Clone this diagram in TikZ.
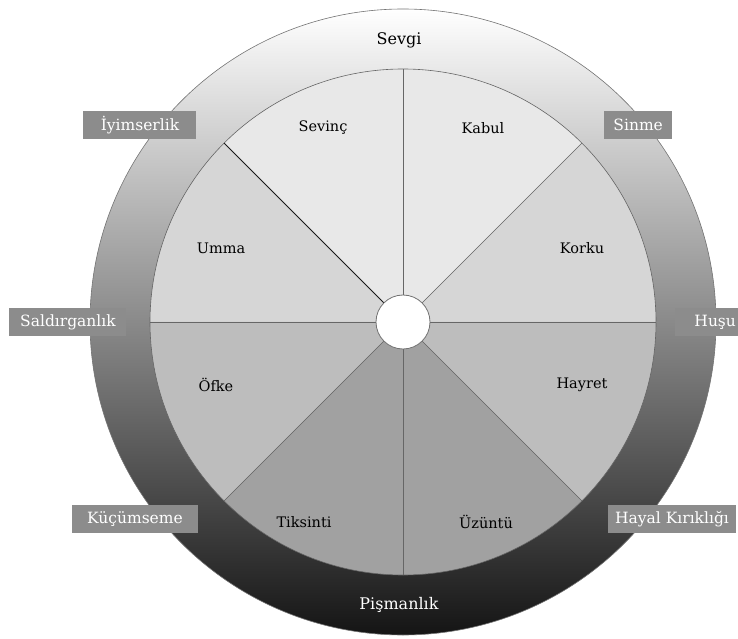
\documentclass[tikz,border=0pt]{standalone}
\usepackage{fontspec}
\setmainfont{DejaVu Serif}
\begin{document}
\begin{tikzpicture}[x=1pt,y=1pt,
  seg/.style={draw=black!60,line width=0.7pt},
  seglabel/.style={font=\fontsize{14.5}{16}\selectfont,text=black},
  tagbox/.style={fill=black!45,text=white,font=\fontsize{15.5}{17}\selectfont,minimum height=28pt,inner xsep=7pt,inner ysep=0pt},
  ringlabel/.style={font=\fontsize{16}{18}\selectfont}]
\useasboundingbox (-403,-317) rectangle (335,322);
% outer ring
\shade[top color=white,middle color=black!45,bottom color=black!92] (0,0) circle (313);
\draw[black!55,line width=0.6pt] (0,0) circle (313);
% sectors
\coordinate (c) at (0,0);
\fill[black!9]  (c) -- (90:253) arc (90:135:253) -- cycle;
\fill[black!9]  (c) -- (45:253) arc (45:90:253) -- cycle;
\fill[black!16] (c) -- (135:253) arc (135:180:253) -- cycle;
\fill[black!16] (c) -- (0:253) arc (0:45:253) -- cycle;
\fill[black!26] (c) -- (180:253) arc (180:225:253) -- cycle;
\fill[black!26] (c) -- (315:253) arc (315:360:253) -- cycle;
\fill[black!37] (c) -- (225:253) arc (225:270:253) -- cycle;
\fill[black!37] (c) -- (270:253) arc (270:315:253) -- cycle;
\draw[black!60,line width=0.6pt] (c) circle (253);
\foreach \a in {0,45,90,180,225,270,315} \draw[seg] (c) -- (\a:253);
\draw[draw=black!90,line width=1pt] (c) -- (135:253);
\node[circle,fill=white,draw=black!55,line width=0.8pt,minimum size=54pt,inner sep=0pt] (hub) at (c) {};
% sector labels
\node[seglabel] (sevinc) at (-80,194) {Sevinç};
\node[seglabel] (kabul) at (80,194) {Kabul};
\node[seglabel] (umma) at (-182,74) {Umma};
\node[seglabel] (korku) at (179,74) {Korku};
\node[seglabel] (ofke) at (-187,-63) {Öfke};
\node[seglabel] (hayret) at (179,-63) {Hayret};
\node[seglabel] (tiksinti) at (-99,-200) {Tiksinti};
\node[seglabel] (uzuntu) at (83,-200) {Üzüntü};
% ring labels
\node[ringlabel,text=black] (sevgi) at (-4,282) {Sevgi};
\node[ringlabel,text=white] (pisman) at (-4,-283) {Pişmanlık};
% tag boxes
\node[tagbox,minimum width=113pt] (iyim) at (-263,197) {İyimserlik};
\node[tagbox,anchor=west,minimum width=68pt] (sinme) at (201,197) {Sinme};
\node[tagbox,minimum width=117pt] (saldir) at (-335,0) {Saldırganlık};
\node[tagbox,anchor=west,minimum width=80pt] (husu) at (272,0) {Huşu};
\node[tagbox,minimum width=126pt] (kucum) at (-268,-197) {Küçümseme};
\node[tagbox,anchor=west] (hayal) at (205,-197) {Hayal Kırıklığı};
\end{tikzpicture}
\end{document}
